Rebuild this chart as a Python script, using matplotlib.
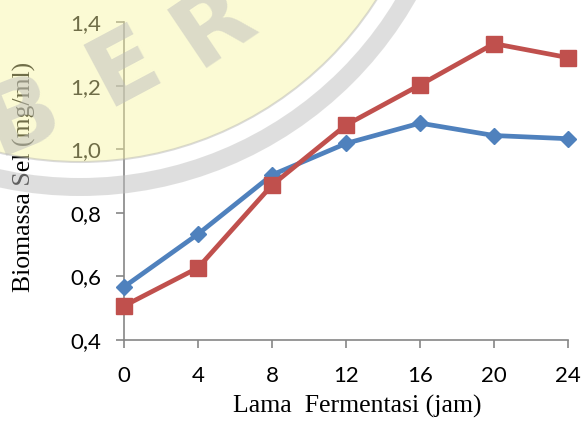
import matplotlib
matplotlib.use("Agg")
import matplotlib.pyplot as plt
from matplotlib.patches import Circle, Wedge
from matplotlib.ticker import FuncFormatter

# Fermentation time (hours) and cell biomass (mg/ml) for two cultures
jam = [0, 4, 8, 12, 16, 20, 24]
biomassa_a = [0.567, 0.733, 0.919, 1.018, 1.082, 1.043, 1.033]
biomassa_b = [0.507, 0.627, 0.887, 1.076, 1.202, 1.332, 1.288]
y_ticks = [0.4, 0.6, 0.8, 1.0, 1.2, 1.4]
x_ticks = [0, 4, 8, 12, 16, 20, 24]

BLUE = "#4F81BD"
RED = "#C0504D"
GREY = "#868686"

fig = plt.figure(figsize=(5.84, 4.26), dpi=100)
W, H = 584, 426
ax = fig.add_axes([124 / W, 1 - 340 / H, 444 / W, 318 / H])

ax.plot(jam, biomassa_a, color=BLUE, lw=3.4, marker="D", ms=8.5,
        mec=BLUE, clip_on=False, zorder=3)
ax.plot(jam, biomassa_b, color=RED, lw=3.4, marker="s", ms=12,
        mec=RED, clip_on=False, zorder=4)

ax.set_xlim(0, 24)
ax.set_ylim(0.4, 1.4)
ax.set_xticks(x_ticks)
ax.set_yticks(y_ticks)
ax.yaxis.set_major_formatter(FuncFormatter(lambda v, p: f"{v:.1f}".replace(".", ",")))

for s in ("top", "right"):
    ax.spines[s].set_visible(False)
for s in ("left", "bottom"):
    ax.spines[s].set_color(GREY)
    ax.spines[s].set_linewidth(1.2)
ax.tick_params(direction="out", length=5.5, width=1.2, color=GREY,
               labelsize=16, labelcolor="black")
ax.tick_params(axis="x", pad=13)
ax.tick_params(axis="y", pad=11)
for lab in ax.get_xticklabels() + ax.get_yticklabels():
    lab.set_family("Lato")

fig.text(357 / W, 1 - 413 / H, "Lama  Fermentasi (jam)", family="Liberation Serif",
         fontsize=18.5, ha="center", va="baseline")
fig.text(24 / W, 1 - 177 / H, "Biomassa Sel (mg/ml)", family="Liberation Serif",
         fontsize=18.5, ha="center", va="center", rotation=90)

# faint university seal in the upper-left corner
cx, cy = 80, H + 190  # pixel centre (origin bottom-left)
seal = Circle((cx, cy), 352, transform=None, facecolor="#F8F4A0",
              edgecolor="#B0B0B0", lw=1.5, alpha=0.45, zorder=10)
ring = Wedge((cx, cy), 386, 180, 360, width=18, transform=None,
             facecolor="#BFBFBF", edgecolor="none", alpha=0.5, zorder=10)
fig.patches.extend([seal, ring])
for ch, x, y, rot in [("B", 22, 118, 22), ("E", 124, 68, 28), ("R", 214, 26, 34)]:
    fig.text(x / W, 1 - y / H, ch, fontsize=70, fontweight="bold",
             family="DejaVu Sans", color="#BDBDBD", alpha=0.5,
             ha="center", va="center", rotation=rot, zorder=11)

fig.savefig("out.png", dpi=100)
